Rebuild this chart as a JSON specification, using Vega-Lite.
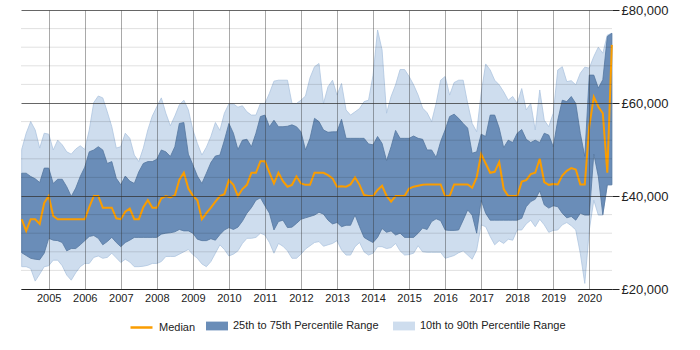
{
"$schema": "https://vega.github.io/schema/vega-lite/v6.json",
"width": 591, "height": 279,
"autosize": {"type": "none"},
"padding": {"left": 21, "top": 10, "right": 88, "bottom": 61},
"background": "white",
"config": {"view": {"stroke": null}, "font": "Liberation Sans"},
"datasets": {
"pay": [
{"t":2004.25,"p10":24800,"p25":27800,"med":35000,"p75":44900,"p90":50000},
{"t":2004.375,"p10":24800,"p25":27200,"med":32500,"p75":44900,"p90":53500},
{"t":2004.5,"p10":24400,"p25":26600,"med":35000,"p75":44200,"p90":56000},
{"t":2004.625,"p10":21700,"p25":26400,"med":35000,"p75":43700,"p90":54200},
{"t":2004.75,"p10":23200,"p25":26300,"med":34000,"p75":42900,"p90":50300},
{"t":2004.875,"p10":24800,"p25":27700,"med":38500,"p75":46000,"p90":53500},
{"t":2005.0,"p10":25000,"p25":30900,"med":40000,"p75":46000,"p90":53300},
{"t":2005.125,"p10":26200,"p25":30500,"med":35700,"p75":42700,"p90":49900},
{"t":2005.25,"p10":26200,"p25":30400,"med":35000,"p75":43600,"p90":52000},
{"t":2005.375,"p10":25000,"p25":30000,"med":35000,"p75":43600,"p90":51000},
{"t":2005.5,"p10":23000,"p25":28200,"med":35000,"p75":42000,"p90":49500},
{"t":2005.625,"p10":21900,"p25":28700,"med":35000,"p75":39900,"p90":49000},
{"t":2005.75,"p10":23500,"p25":28700,"med":35000,"p75":41700,"p90":50100},
{"t":2005.875,"p10":24800,"p25":29500,"med":35000,"p75":44200,"p90":50800},
{"t":2006.0,"p10":25500,"p25":30400,"med":35000,"p75":46200,"p90":50000},
{"t":2006.125,"p10":25500,"p25":31300,"med":37600,"p75":49500,"p90":54200},
{"t":2006.25,"p10":26800,"p25":31500,"med":40000,"p75":49900,"p90":60100},
{"t":2006.375,"p10":27100,"p25":30900,"med":40000,"p75":50600,"p90":61500},
{"t":2006.5,"p10":26600,"p25":29500,"med":37500,"p75":49900,"p90":61100},
{"t":2006.625,"p10":26800,"p25":30200,"med":37500,"p75":47000,"p90":58100},
{"t":2006.75,"p10":27700,"p25":31100,"med":37500,"p75":47400,"p90":54900},
{"t":2006.875,"p10":26700,"p25":30000,"med":35200,"p75":43800,"p90":50300},
{"t":2007.0,"p10":25700,"p25":29100,"med":35000,"p75":42400,"p90":50600},
{"t":2007.125,"p10":26400,"p25":30000,"med":36600,"p75":44300,"p90":53500},
{"t":2007.25,"p10":25800,"p25":30500,"med":37300,"p75":43200,"p90":52400},
{"t":2007.375,"p10":24800,"p25":31100,"med":35000,"p75":42700,"p90":48800},
{"t":2007.5,"p10":24800,"p25":31100,"med":35000,"p75":45200,"p90":47400},
{"t":2007.625,"p10":24900,"p25":31100,"med":37600,"p75":47000,"p90":50300},
{"t":2007.75,"p10":25100,"p25":31100,"med":39100,"p75":47400,"p90":54200},
{"t":2007.875,"p10":25500,"p25":31100,"med":37500,"p75":47400,"p90":57200},
{"t":2008.0,"p10":25500,"p25":31100,"med":37500,"p75":47900,"p90":59200},
{"t":2008.125,"p10":25900,"p25":31800,"med":39500,"p75":49900,"p90":61100},
{"t":2008.25,"p10":27000,"p25":32000,"med":40000,"p75":49500,"p90":57800},
{"t":2008.375,"p10":27000,"p25":32100,"med":39700,"p75":48500,"p90":55100},
{"t":2008.5,"p10":27000,"p25":32300,"med":40100,"p75":50600,"p90":57200},
{"t":2008.625,"p10":27500,"p25":32800,"med":43500,"p75":55600,"p90":59600},
{"t":2008.75,"p10":28000,"p25":32500,"med":45000,"p75":55800,"p90":60600},
{"t":2008.875,"p10":28500,"p25":32500,"med":41600,"p75":49000,"p90":58500},
{"t":2009.0,"p10":27400,"p25":32000,"med":40100,"p75":46700,"p90":54200},
{"t":2009.125,"p10":26600,"p25":30700,"med":39100,"p75":44300,"p90":51300},
{"t":2009.25,"p10":25400,"p25":30400,"med":35000,"p75":42700,"p90":48800},
{"t":2009.375,"p10":24800,"p25":30400,"med":36300,"p75":44900,"p90":50500},
{"t":2009.5,"p10":25900,"p25":30800,"med":37500,"p75":47200,"p90":52800},
{"t":2009.625,"p10":27700,"p25":30500,"med":38800,"p75":48600,"p90":55800},
{"t":2009.75,"p10":29500,"p25":31700,"med":40000,"p75":48800,"p90":54100},
{"t":2009.875,"p10":28500,"p25":32700,"med":40400,"p75":52000,"p90":57800},
{"t":2010.0,"p10":27100,"p25":33200,"med":43400,"p75":55600,"p90":59800},
{"t":2010.125,"p10":27500,"p25":32800,"med":42400,"p75":53500,"p90":59800},
{"t":2010.25,"p10":28200,"p25":33300,"med":40000,"p75":50000,"p90":59100},
{"t":2010.375,"p10":29800,"p25":34600,"med":41500,"p75":52000,"p90":59400},
{"t":2010.5,"p10":30900,"p25":36300,"med":42400,"p75":52200,"p90":58100},
{"t":2010.625,"p10":30900,"p25":37500,"med":45000,"p75":50600,"p90":57400},
{"t":2010.75,"p10":31100,"p25":39100,"med":45000,"p75":53500,"p90":57400},
{"t":2010.875,"p10":32000,"p25":39600,"med":47500,"p75":57100,"p90":59900},
{"t":2011.0,"p10":31600,"p25":37900,"med":47500,"p75":57400,"p90":59900},
{"t":2011.125,"p10":30000,"p25":36300,"med":45000,"p75":54900,"p90":62100},
{"t":2011.25,"p10":27700,"p25":32700,"med":42700,"p75":56300,"p90":64700},
{"t":2011.375,"p10":29800,"p25":34500,"med":45000,"p75":54900,"p90":64900},
{"t":2011.5,"p10":29200,"p25":34800,"med":43200,"p75":54900,"p90":64900},
{"t":2011.625,"p10":28200,"p25":33200,"med":42000,"p75":55000,"p90":64900},
{"t":2011.75,"p10":26600,"p25":33300,"med":42400,"p75":55300,"p90":59900},
{"t":2011.875,"p10":26600,"p25":34100,"med":44200,"p75":54900,"p90":59900},
{"t":2012.0,"p10":27500,"p25":35000,"med":42700,"p75":53800,"p90":60600},
{"t":2012.125,"p10":28600,"p25":35300,"med":42400,"p75":49900,"p90":61500},
{"t":2012.25,"p10":29300,"p25":35600,"med":42400,"p75":52400,"p90":65400},
{"t":2012.375,"p10":30000,"p25":35900,"med":45000,"p75":56700,"p90":67800},
{"t":2012.5,"p10":30200,"p25":36500,"med":45000,"p75":56000,"p90":68500},
{"t":2012.625,"p10":29200,"p25":36100,"med":45000,"p75":54200,"p90":59900},
{"t":2012.75,"p10":29500,"p25":34800,"med":44500,"p75":53700,"p90":63500},
{"t":2012.875,"p10":29800,"p25":34000,"med":43800,"p75":53800,"p90":64900},
{"t":2013.0,"p10":30400,"p25":34300,"med":42000,"p75":53800,"p90":61700},
{"t":2013.125,"p10":28400,"p25":33400,"med":42100,"p75":56500,"p90":64200},
{"t":2013.25,"p10":27300,"p25":33700,"med":42000,"p75":52400,"p90":58500},
{"t":2013.375,"p10":27300,"p25":33700,"med":42500,"p75":52400,"p90":57400},
{"t":2013.5,"p10":29100,"p25":35900,"med":44000,"p75":52400,"p90":58100},
{"t":2013.625,"p10":30000,"p25":33400,"med":42400,"p75":52400,"p90":58800},
{"t":2013.75,"p10":28000,"p25":31100,"med":40200,"p75":52400,"p90":60300},
{"t":2013.875,"p10":27300,"p25":30500,"med":40000,"p75":51200,"p90":60600},
{"t":2014.0,"p10":27700,"p25":30000,"med":40000,"p75":51000,"p90":66000},
{"t":2014.125,"p10":29100,"p25":31100,"med":41300,"p75":52800,"p90":75700},
{"t":2014.25,"p10":29100,"p25":33000,"med":42200,"p75":51300,"p90":71400},
{"t":2014.375,"p10":28700,"p25":32200,"med":40000,"p75":47600,"p90":57800},
{"t":2014.5,"p10":28900,"p25":32500,"med":38800,"p75":50600,"p90":61400},
{"t":2014.625,"p10":29800,"p25":31600,"med":40000,"p75":54100,"p90":63900},
{"t":2014.75,"p10":28200,"p25":32000,"med":40000,"p75":52400,"p90":67200},
{"t":2014.875,"p10":27300,"p25":31100,"med":40000,"p75":52400,"p90":67200},
{"t":2015.0,"p10":27400,"p25":31100,"med":41600,"p75":52400,"p90":65700},
{"t":2015.125,"p10":27700,"p25":31100,"med":42000,"p75":52900,"p90":63900},
{"t":2015.25,"p10":29300,"p25":32000,"med":42200,"p75":52400,"p90":61700},
{"t":2015.375,"p10":28000,"p25":33100,"med":42400,"p75":52200,"p90":58900},
{"t":2015.5,"p10":27900,"p25":32800,"med":42500,"p75":49900,"p90":57900},
{"t":2015.625,"p10":27900,"p25":34500,"med":42500,"p75":49900,"p90":56000},
{"t":2015.75,"p10":27900,"p25":35100,"med":42500,"p75":48300,"p90":59900},
{"t":2015.875,"p10":27900,"p25":34700,"med":42500,"p75":51700,"p90":64900},
{"t":2016.0,"p10":26600,"p25":32700,"med":40000,"p75":54200,"p90":65700},
{"t":2016.125,"p10":26900,"p25":32600,"med":40000,"p75":57100,"p90":61700},
{"t":2016.25,"p10":27200,"p25":32600,"med":42500,"p75":57600,"p90":64400},
{"t":2016.375,"p10":27800,"p25":32700,"med":42500,"p75":56700,"p90":64900},
{"t":2016.5,"p10":28200,"p25":34800,"med":42500,"p75":55600,"p90":64900},
{"t":2016.625,"p10":27300,"p25":37000,"med":42500,"p75":54600,"p90":59900},
{"t":2016.75,"p10":26400,"p25":35900,"med":41800,"p75":49200,"p90":55600},
{"t":2016.875,"p10":28400,"p25":32000,"med":44000,"p75":49500,"p90":53800},
{"t":2017.0,"p10":33800,"p25":39100,"med":49000,"p75":53300,"p90":62100},
{"t":2017.125,"p10":33400,"p25":36300,"med":47000,"p75":52800,"p90":68400},
{"t":2017.25,"p10":31300,"p25":34800,"med":45000,"p75":57400,"p90":67100},
{"t":2017.375,"p10":29500,"p25":34800,"med":45200,"p75":57400,"p90":64900},
{"t":2017.5,"p10":30400,"p25":34800,"med":47300,"p75":54600,"p90":63900},
{"t":2017.625,"p10":29800,"p25":34800,"med":41500,"p75":50400,"p90":62400},
{"t":2017.75,"p10":30700,"p25":34800,"med":40000,"p75":52000,"p90":60600},
{"t":2017.875,"p10":30500,"p25":34800,"med":40000,"p75":51500,"p90":61400},
{"t":2018.0,"p10":32700,"p25":34800,"med":40000,"p75":53500,"p90":59900},
{"t":2018.125,"p10":32700,"p25":35200,"med":43100,"p75":54300,"p90":63100},
{"t":2018.25,"p10":34000,"p25":37700,"med":43400,"p75":52200,"p90":58500},
{"t":2018.375,"p10":34800,"p25":38800,"med":44700,"p75":51500,"p90":59900},
{"t":2018.5,"p10":33400,"p25":39300,"med":45000,"p75":52000,"p90":54200},
{"t":2018.625,"p10":35000,"p25":41100,"med":48000,"p75":51500,"p90":62800},
{"t":2018.75,"p10":33800,"p25":38100,"med":43000,"p75":53500,"p90":56300},
{"t":2018.875,"p10":32200,"p25":37400,"med":42400,"p75":53100,"p90":54900},
{"t":2019.0,"p10":32600,"p25":37900,"med":42600,"p75":50600,"p90":57800},
{"t":2019.125,"p10":32700,"p25":37700,"med":42500,"p75":56300,"p90":67100},
{"t":2019.25,"p10":33800,"p25":36300,"med":44400,"p75":60600,"p90":67800},
{"t":2019.375,"p10":34300,"p25":35300,"med":45400,"p75":60300,"p90":64600},
{"t":2019.5,"p10":33600,"p25":35600,"med":46000,"p75":61400,"p90":64800},
{"t":2019.625,"p10":32700,"p25":34800,"med":45700,"p75":59900,"p90":63900},
{"t":2019.75,"p10":27700,"p25":36300,"med":42500,"p75":53500,"p90":66400},
{"t":2019.875,"p10":21200,"p25":35900,"med":42500,"p75":48500,"p90":67700},
{"t":2020.0,"p10":32700,"p25":35900,"med":55000,"p75":66000,"p90":67500},
{"t":2020.125,"p10":39100,"p25":49000,"med":61300,"p75":66000,"p90":70000},
{"t":2020.25,"p10":35900,"p25":44200,"med":59200,"p75":63200,"p90":72000},
{"t":2020.375,"p10":35900,"p25":36000,"med":57800,"p75":65000,"p90":70700},
{"t":2020.5,"p10":42400,"p25":42400,"med":45000,"p75":74300,"p90":74600},
{"t":2020.625,"p10":42400,"p25":42400,"med":72500,"p75":75000,"p90":75000}
],
"minor": [{"v":24000},{"v":28000},{"v":32000},{"v":36000},{"v":44000},{"v":48000},{"v":52000},{"v":56000},{"v":64000},{"v":68000},{"v":72000},{"v":76000}]
},
"layer": [
{
"data": {"name": "pay"},
"encoding": {
"x": {"field": "t", "type": "quantitative", "scale": {"domain": [2004.231, 2020.63], "nice": false, "zero": false},
"axis": {"title": null, "values": [2005,2006,2007,2008,2009,2010,2011,2012,2013,2014,2015,2016,2017,2018,2019,2020], "labelExpr": "datum.value", "labelOverlap": false, "labelFlush": false, "grid": true, "gridColor": "#333333", "gridOpacity": 0.42, "domain": true, "domainColor": "#222222", "ticks": false, "labelPadding": 3, "labelFontSize": 11, "labelColor": "#222222", "labelFont": "Liberation Sans", "zindex": 1}}
},
"layer": [
{
"mark": {"type": "area", "stroke": "#aec5e0", "strokeWidth": 0.8},
"encoding": {
"y": {"field": "p10", "type": "quantitative", "scale": {"domain": [20000, 80000], "nice": false, "zero": false},
"axis": {"title": null, "orient": "right", "values": [20000,40000,60000,80000], "labelExpr": "'£' + format(datum.value, ',')", "grid": true, "gridColor": "#333333", "gridOpacity": 0.75, "domain": false, "ticks": true, "tickSize": 7, "tickColor": "#222222", "labelPadding": 2, "labelFontSize": 13, "labelColor": "#222222", "labelFont": "Liberation Sans", "zindex": 1}},
"y2": {"field": "p90"},
"fill": {"datum": "10th to 90th Percentile Range", "type": "nominal",
"scale": {"domain": ["25th to 75th Percentile Range", "10th to 90th Percentile Range"], "range": ["#6A8DB8", "#CEDDEE"]},
"legend": {"orient": "none", "legendX": 185, "legendY": 305, "direction": "horizontal", "title": null, "labelFontSize": 11, "labelColor": "#222222", "labelFont": "Liberation Sans", "symbolSize": 484, "symbolType": "M-1,-0.4H1V0.4H-1Z", "symbolStrokeWidth": 0, "symbolOpacity": 1, "labelOffset": 5, "columnPadding": 14, "padding": 0}}
}
},
{
"mark": {"type": "area", "stroke": "#55779f", "strokeWidth": 0.8},
"encoding": {
"y": {"field": "p25", "type": "quantitative", "title": null},
"y2": {"field": "p75"},
"fill": {"datum": "25th to 75th Percentile Range", "type": "nominal"}
}
},
{
"mark": {"type": "line", "strokeWidth": 2, "interpolate": "linear"},
"encoding": {
"y": {"field": "med", "type": "quantitative", "title": null},
"stroke": {"datum": "Median", "type": "nominal",
"scale": {"domain": ["Median"], "range": ["#FA9D00"]},
"legend": {"orient": "none", "legendX": 108, "legendY": 305, "direction": "horizontal", "title": null, "labelFontSize": 11, "labelColor": "#222222", "labelFont": "Liberation Sans", "symbolSize": 484, "symbolType": "stroke", "symbolStrokeWidth": 2.5, "labelOffset": 5, "padding": 0}}
}
}
]
},
{
"data": {"name": "minor"},
"mark": {"type": "rule", "color": "#000000", "opacity": 0.12, "strokeWidth": 1},
"encoding": {
"y": {"field": "v", "type": "quantitative", "title": null}
}
}
]
}
